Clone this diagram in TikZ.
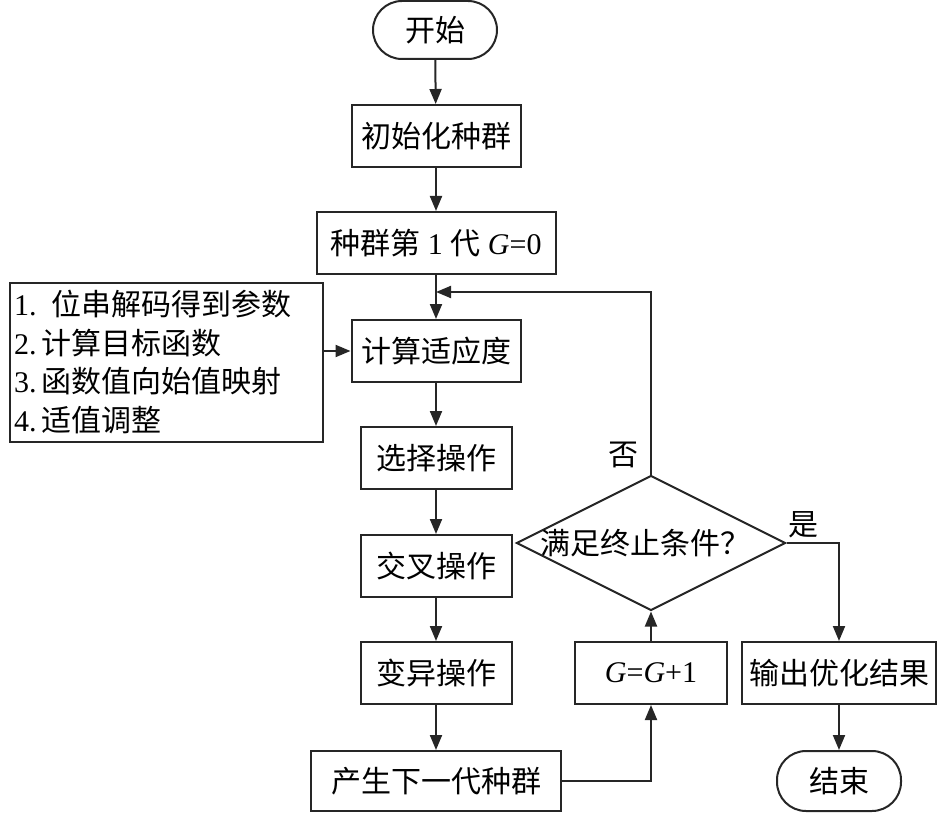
\documentclass[tikz,border=0pt]{standalone}
\usepackage{fontspec}
\setmainfont{Liberation Serif}
\newfontfamily\cjk{Noto Sans CJK SC}
\usetikzlibrary{shapes.geometric,arrows.meta}
\tikzset{
  base/.style={draw=black!85, line width=2pt, inner sep=0pt, align=center,
    font=\fontsize{30}{36}\selectfont},
  box/.style={base, rectangle, minimum height=62pt},
  term/.style={base, rectangle, rounded corners=29pt, minimum height=58pt, minimum width=124pt},
  cond/.style={base, diamond, minimum width=269pt, minimum height=135pt},
  arr/.style={draw=black!85, line width=2pt, -{Triangle[length=15pt,width=12pt]}},
  lbl/.style={font=\fontsize{30}{36}\selectfont\cjk, inner sep=0pt}
}
\begin{document}
\begin{tikzpicture}[x=1pt,y=-1pt]
\useasboundingbox (0,0) rectangle (945,813);
\node[term] (start) at (435,30) {\cjk 开始};
\node[box, minimum width=169pt] (init) at (436,136) {\cjk 初始化种群};
\node[box, minimum width=239pt] (gen) at (436,243) {{\cjk 种群第} 1 {\cjk 代} \textit{G}=0};
\node[box, minimum width=169pt] (fit) at (436,351) {\cjk 计算适应度};
\node[box, minimum width=313pt, minimum height=159pt] (info) at (166.5,362.5) {};
\node[anchor=west, inner sep=0pt, align=left, font=\fontsize{30}{38.5}\selectfont] (infotxt) at (14,362)
  {1.\ \ {\cjk 位串解码得到参数}\\2.\,{\cjk 计算目标函数}\\3.\,{\cjk 函数值向始值映射}\\4.\,{\cjk 适值调整}};
\node[box, minimum width=151pt] (sel) at (436,458) {\cjk 选择操作};
\node[box, minimum width=151pt] (cross) at (436,566) {\cjk 交叉操作};
\node[box, minimum width=151pt] (mut) at (436,673) {\cjk 变异操作};
\node[box, minimum width=250pt, minimum height=60pt] (next) at (436,781) {\cjk 产生下一代种群};
\node[box, minimum width=152pt] (inc) at (651,673) {\textit{G}=\textit{G}+1};
\node[cond] (dec) at (651,543) {};
\node[lbl] (dectxt) at (645,543) {满足终止条件？};
\node[box, minimum width=194pt] (out) at (839,673) {\cjk 输出优化结果};
\node[term, minimum height=60pt] (end) at (839,781) {\cjk 结束};
\node[lbl] (no) at (623,455) {否};
\node[lbl] (yes) at (803,525) {是};
\coordinate (fb) at (436,292);

\draw[arr] (start) -- (init);
\draw[arr] (init) -- (gen);
\draw[arr] (gen) -- (fit);
\draw[arr] (info.east |- fit.west) -- (fit.west);
\draw[arr] (fit) -- (sel);
\draw[arr] (sel) -- (cross);
\draw[arr] (cross) -- (mut);
\draw[arr] (mut) -- (next);
\draw[arr] (next.east) -| (inc.south);
\draw[arr] (inc.north) -- (dec.south);
\draw[arr] (dec.north) |- (fb);
\draw[arr] (dec.east) -| (out.north);
\draw[arr] (out) -- (end);
\end{tikzpicture}
\end{document}
